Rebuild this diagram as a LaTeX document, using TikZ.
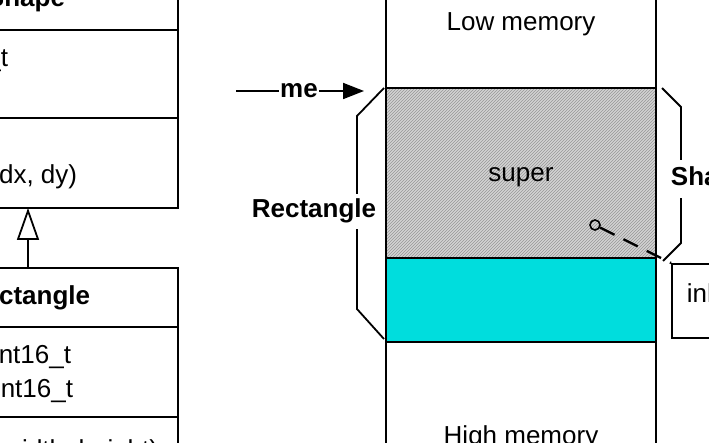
\documentclass[tikz,border=0pt]{standalone}
\usepackage{fontspec}
\setmainfont{Liberation Sans}
\usepackage{tikz}
\usetikzlibrary{arrows.meta,patterns}
\definecolor{supergray}{RGB}{212,212,212}
\definecolor{hatchgray}{RGB}{150,150,150}
\definecolor{derivedcyan}{RGB}{0,221,221}
\tikzset{
  txt/.style={inner sep=0pt,anchor=base},
  bold/.style={font=\fontsize{26}{30}\selectfont\bfseries},
  brace/.style={line width=1.8pt,line join=miter},
}
\begin{document}
\begin{tikzpicture}[x=1pt,y=-1pt,line width=1.8pt,font=\fontsize{26}{30}\selectfont,
    >={Triangle[length=21pt,width=16pt]}]
  \useasboundingbox (0,0) rectangle (709,443);
  \clip (0,0) rectangle (709,443);

  % class diagram
  \draw (178,-10) -- (178,208) -- (-10,208);
  \draw (-10,30) -- (178,30) (-10,118) -- (178,118);
  \node[txt,bold] (shapehd) at (26,7) {Shape};
  \node[txt,anchor=base east] (shapex) at (9,67) {x : int16\_t};
  \node[txt,anchor=base east] (shapemv) at (78,184) {moveBy(dx, dy)};
  \draw (-10,268) -- (178,268) -- (178,460);
  \draw (-10,327) -- (178,327) (-10,417) -- (178,417);
  \node[txt,bold,anchor=base east] (recthd) at (91,305) {Rectangle};
  \node[txt,anchor=base east] (rectw) at (72,363) {width : uint16\_t};
  \node[txt,anchor=base east] (recth) at (74,397) {height : uint16\_t};
  \node[txt,anchor=base east] (rectct) at (159,458) {ctor(me, x, y, width, height)};
  \coordinate (isfrom) at (28,268);
  \coordinate (isto) at (28,208);
  \draw[-{Triangle[open,length=32pt,width=22pt]},fill=white] (isfrom) -- (isto);

  % memory
  \fill[supergray] (386,88) rectangle (656,258);
  \fill[pattern=north east lines,pattern color=hatchgray] (386,88) rectangle (656,258);
  \fill[derivedcyan] (386,258) rectangle (656,342);
  \draw (386,-10) -- (386,460) (656,-10) -- (656,460);
  \draw (386,88) -- (656,88) (386,258) -- (656,258) (386,342) -- (656,342);
  \node[txt] (low) at (521,31) {Low memory};
  \node[txt] (super) at (521,182) {super};
  \node[txt] (high) at (521,444) {High memory};

  \coordinate (mefrom) at (236,91);
  \coordinate (meto) at (364,91);
  \draw[->] (mefrom) -- (meto);
  \node[txt,bold,fill=white,inner xsep=1pt] (me) at (299,98) {me};

  \draw[brace] (384,88) -- (357,116) -- (357,309) -- (384,339);
  \node[txt,bold,fill=white,inner ysep=5pt] (rectlbl) at (314,218) {Rectangle};
  \draw[brace] (662,88) -- (681,107) -- (681,243) -- (663,261);
  \node[txt,bold,fill=white,inner ysep=7pt,anchor=base west] (shapelbl) at (670,186) {Shape};

  \node[draw,anchor=north west,minimum width=120pt,minimum height=74pt] (inh) at (671,263) {};
  \node[txt,anchor=base west] (inhlbl) at (686,303) {inherited};
  \node[circle,draw,inner sep=0pt,minimum size=10pt,line width=1.6pt] (ptr) at (595,225) {};
  \draw[line width=2.4pt,dash pattern=on 16pt off 10pt] (ptr) -- (inh.north west);
\end{tikzpicture}
\end{document}
